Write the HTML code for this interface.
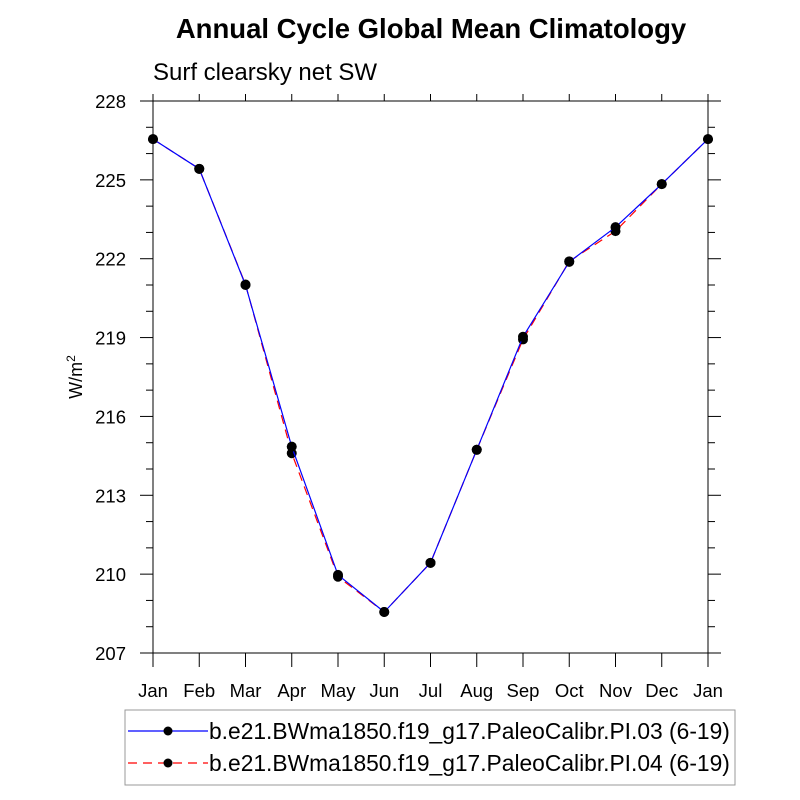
<!DOCTYPE html>
<html><head><meta charset="utf-8"><style>
body{margin:0;background:#fff;}
svg{display:block;font-family:"Liberation Sans",sans-serif;}
</style></head><body>
<svg id="c" width="800" height="800" viewBox="0 0 800 800">
<text x="431" y="38" text-anchor="middle" font-size="27.5" font-weight="bold">Annual Cycle Global Mean Climatology</text>
<text x="153" y="80" font-size="24">Surf clearsky net SW</text>
<text transform="translate(82,377) rotate(-90)" text-anchor="middle" font-size="18">W/m<tspan dy="-7" font-size="12">2</tspan></text>
<rect x="153" y="101" width="555" height="552" fill="none" stroke="#000" stroke-width="1"/>
<g id="axes"></g>
<g id="series"></g>
<g>
<rect x="125" y="710" width="610" height="75" fill="#fff" stroke="#999" stroke-width="1"/>
<line x1="128" y1="731" x2="208" y2="731" stroke="#0000ff" stroke-width="1.2"/>
<circle cx="168" cy="731" r="4.5" fill="#000"/>
<text x="209" y="739" font-size="22.8">b.e21.BWma1850.f19_g17.PaleoCalibr.PI.03 (6-19)</text>
<line x1="128" y1="763" x2="208" y2="763" stroke="#ff0000" stroke-width="1.2" stroke-dasharray="9,6"/>
<circle cx="168" cy="763" r="4.5" fill="#000"/>
<text x="209" y="771" font-size="22.8">b.e21.BWma1850.f19_g17.PaleoCalibr.PI.04 (6-19)</text>
</g>
</svg>
<script>
const months=["Jan","Feb","Mar","Apr","May","Jun","Jul","Aug","Sep","Oct","Nov","Dec","Jan"];
const series03=[226.55,225.42,221.0,214.85,209.97,208.56,210.43,214.73,219.03,221.88,223.2,224.84,226.55];
const series04=[226.55,225.42,221.02,214.6,209.9,208.56,210.43,214.73,218.93,221.9,223.05,224.84,226.55];
const yTicks=[207,210,213,216,219,222,225,228];
const NS="http://www.w3.org/2000/svg";
const X0=153,X1=708,Y0=653,Y1=101,YMIN=207,YMAX=228;
const xs=i=>X0+(X1-X0)*i/(months.length-1);
const ys=v=>Y0-(v-YMIN)/(YMAX-YMIN)*(Y0-Y1);
function mk(t,a,p){const e=document.createElementNS(NS,t);for(const k in a)e.setAttribute(k,a[k]);p.appendChild(e);return e;}
const ax=document.getElementById('axes');
months.forEach((m,i)=>{
 const x=xs(i);
 let l=mk('line',{x1:x,y1:Y0,x2:x,y2:Y0+14,stroke:'#000'},ax);
 
 
 l=mk('line',{x1:x,y1:Y1,x2:x,y2:Y1-7,stroke:'#000'},ax);
 
 
 const t=mk('text',{x:x,y:Y0+44,'text-anchor':'middle','font-size':'18.5'},ax);
 t.textContent=m;
 
 
});
for(let v=YMIN;v<=YMAX;v++){
 const y=ys(v),maj=(v-YMIN)%3===0,len=maj?13:7;
 let l=mk('line',{x1:X0-len,y1:y,x2:X0,y2:y,stroke:'#000'},ax);
 
 
 l=mk('line',{x1:X1,y1:y,x2:X1+len,y2:y,stroke:'#000'},ax);
 
 
}
yTicks.forEach(v=>{
 const t=mk('text',{x:126,y:ys(v)+7,'text-anchor':'end','font-size':'18.5'},ax);
 t.textContent=v;
 
 
});
const sg=document.getElementById('series');
function draw(d,color,dash,name){
 const p=mk('polyline',{points:d.map((v,i)=>xs(i)+','+ys(v)).join(' '),fill:'none',stroke:color,'stroke-width':'1.2'},sg);
 if(dash)p.setAttribute('stroke-dasharray',dash);
 
 
 d.forEach((v,i)=>{
  const c=mk('circle',{cx:xs(i),cy:ys(v),r:5,fill:'#000'},sg);
  
  
 });
}
draw(series04,'#ff0000','9,6','series-04');
draw(series03,'#0000ff',null,'series-03');
</script>
</body></html>
